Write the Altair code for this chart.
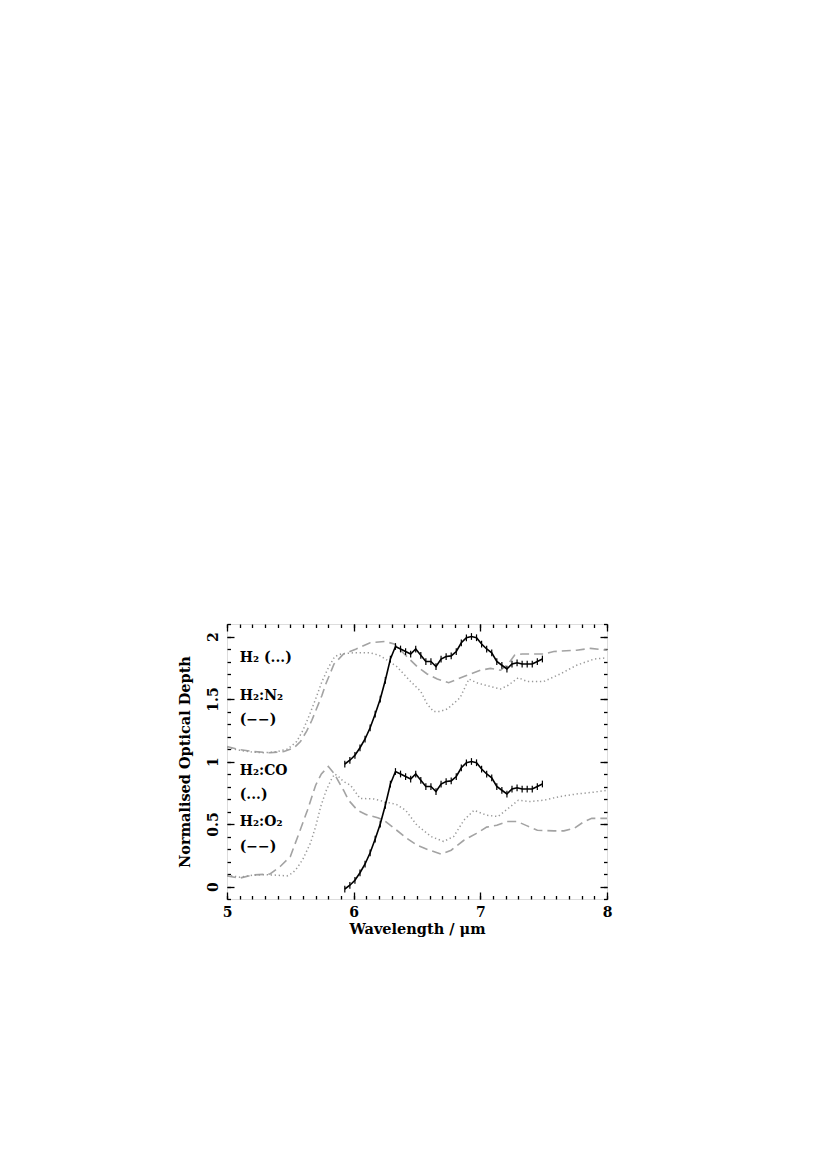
import altair as alt
import pandas as pd

# ---------------- data ----------------
# H2 (pure) ice, dotted, offset +1
h2_x = [5.00, 5.10, 5.20, 5.30, 5.40, 5.48, 5.55, 5.60, 5.65, 5.70, 5.75, 5.80, 5.85, 5.90, 6.00,
        6.13, 6.20, 6.25, 6.34, 6.45, 6.53, 6.58, 6.63, 6.68, 6.74, 6.84, 6.91, 6.97, 7.08, 7.16,
        7.22, 7.30, 7.37, 7.50, 7.63, 7.76, 7.90, 8.00]
h2_y = [1.11, 1.09, 1.075, 1.07, 1.08, 1.10, 1.16, 1.25, 1.37, 1.50, 1.64, 1.75, 1.84, 1.86, 1.87,
        1.87, 1.85, 1.82, 1.76, 1.64, 1.56, 1.46, 1.40, 1.40, 1.42, 1.51, 1.66, 1.63, 1.60, 1.58,
        1.61, 1.67, 1.64, 1.64, 1.70, 1.77, 1.82, 1.83]

# H2:N2 ice, dashed, offset +1
n2_x = [5.00, 5.10, 5.20, 5.34, 5.45, 5.53, 5.58, 5.63, 5.67, 5.71, 5.75, 5.78, 5.845, 5.92, 6.02,
        6.13, 6.25, 6.32, 6.40, 6.50, 6.58, 6.66, 6.75, 6.87, 7.00, 7.08, 7.16, 7.22, 7.27, 7.33,
        7.50, 7.58, 7.76, 7.87, 8.00]
n2_y = [1.12, 1.095, 1.08, 1.07, 1.08, 1.11, 1.16, 1.245, 1.33, 1.43, 1.53, 1.62, 1.78, 1.86, 1.90,
        1.95, 1.96, 1.94, 1.86, 1.76, 1.70, 1.66, 1.63, 1.68, 1.73, 1.745, 1.73, 1.78, 1.85, 1.86,
        1.86, 1.88, 1.89, 1.905, 1.89]

# H2:CO ice, dotted
co_x = [5.00, 5.10, 5.20, 5.30, 5.40, 5.475, 5.52, 5.555, 5.60, 5.66, 5.70, 5.74, 5.78, 5.82, 5.85,
        5.88, 5.92, 5.975, 6.05, 6.16, 6.24, 6.34, 6.41, 6.50, 6.61, 6.71, 6.79, 6.87, 6.95, 7.05,
        7.14, 7.22, 7.30, 7.39, 7.50, 7.63, 7.76, 7.90, 8.00]
co_y = [0.09, 0.075, 0.09, 0.095, 0.09, 0.085, 0.11, 0.15, 0.22, 0.35, 0.48, 0.64, 0.76, 0.85, 0.90,
        0.88, 0.84, 0.81, 0.705, 0.70, 0.68, 0.655, 0.61, 0.49, 0.40, 0.36, 0.40, 0.53, 0.61, 0.57,
        0.56, 0.625, 0.69, 0.68, 0.69, 0.72, 0.74, 0.755, 0.77]

# H2:O2 ice, dashed
o2_x = [5.00, 5.10, 5.21, 5.34, 5.42, 5.50, 5.57, 5.635, 5.70, 5.745, 5.80, 5.845, 5.92, 5.96, 6.03,
        6.10, 6.19, 6.24, 6.34, 6.42, 6.50, 6.60, 6.69, 6.77, 6.87, 6.97, 7.05, 7.13, 7.21, 7.29,
        7.37, 7.45, 7.58, 7.66, 7.74, 7.82, 7.88, 8.00]
o2_y = [0.085, 0.067, 0.093, 0.10, 0.16, 0.24, 0.43, 0.61, 0.81, 0.90, 0.96, 0.905, 0.77, 0.69, 0.61,
        0.575, 0.55, 0.53, 0.45, 0.385, 0.33, 0.29, 0.26, 0.29, 0.37, 0.425, 0.475, 0.49, 0.52, 0.52,
        0.485, 0.45, 0.445, 0.445, 0.465, 0.52, 0.545, 0.545]

# observed normalised optical depth (plotted twice: as is, and offset by +1)
obs_x = [5.93, 5.97, 6.01, 6.05, 6.09, 6.13, 6.17, 6.21, 6.25, 6.29,
         6.33, 6.37, 6.41, 6.45, 6.49, 6.53, 6.57, 6.61, 6.65, 6.69,
         6.73, 6.77, 6.81, 6.85, 6.89, 6.93, 6.97, 7.01, 7.05, 7.09,
         7.13, 7.17, 7.21, 7.25, 7.29, 7.33, 7.37, 7.41, 7.45, 7.49]
obs_y = [-0.02, 0.01, 0.05, 0.11, 0.18, 0.27, 0.38, 0.50, 0.65, 0.82,
         0.92, 0.90, 0.88, 0.86, 0.90, 0.85, 0.80, 0.80, 0.76, 0.82,
         0.84, 0.845, 0.88, 0.95, 0.99, 1.00, 0.99, 0.94, 0.90, 0.87,
         0.80, 0.77, 0.74, 0.78, 0.79, 0.78, 0.78, 0.78, 0.80, 0.82]
obs_err = 0.027
offset = 1.0

label_text = ["H₂ (...)", "H₂:N₂", "(−−)", "H₂:CO", "(...)", "H₂:O₂", "(−−)"]

x_major = [5, 6, 7, 8]
y_major = [0, 0.5, 1, 1.5, 2]
x_minor = [round(5 + 0.1 * i, 2) for i in range(31)]
y_minor = [round(-0.1 + 0.1 * i, 2) for i in range(23)]

# ---------------- frames ----------------
h2 = pd.DataFrame({"x": h2_x, "y": h2_y})
n2 = pd.DataFrame({"x": n2_x, "y": n2_y})
co = pd.DataFrame({"x": co_x, "y": co_y})
o2 = pd.DataFrame({"x": o2_x, "y": o2_y})
obs_lo = pd.DataFrame({"x": obs_x, "y": obs_y})
obs_hi = pd.DataFrame({"x": obs_x, "y": [v + offset for v in obs_y]})
bars = pd.concat([obs_lo, obs_hi], ignore_index=True)
bars["lo"] = bars["y"] - obs_err
bars["hi"] = bars["y"] + obs_err
labels = pd.DataFrame({"t": label_text,
                       "x": [5.10] * 7,
                       "y": [1.83, 1.525, 1.33, 0.925, 0.73, 0.52, 0.32]})

FONT = "DejaVu Serif"
XS = alt.Scale(domain=[5, 8], nice=False, zero=False)
YS = alt.Scale(domain=[-0.1, 2.1], nice=False, zero=False)

common = dict(grid=False, domain=False, tickColor="black", tickWidth=1.3, labelFlush=False,
              labelFont=FONT, labelFontWeight="bold", labelFontSize=14, labelColor="black",
              titleFont=FONT, titleFontWeight="bold", titleFontSize=14.5, titleColor="black")

ax_b = alt.Axis(orient="bottom", values=x_major, tickSize=7, offset=-7, format="d",
                labelPadding=6, title="Wavelength / μm", titlePadding=3, **common)
ax_b_min = alt.Axis(orient="bottom", values=x_minor, tickSize=3.5, offset=-3.5,
                    labels=False, title=None, **common)
ax_t = alt.Axis(orient="top", values=x_major, tickSize=7, offset=-7,
                labels=False, title=None, **common)
ax_t_min = alt.Axis(orient="top", values=x_minor, tickSize=3.5, offset=-3.5,
                    labels=False, title=None, **common)
ax_l = alt.Axis(orient="left", values=y_major, tickSize=7, offset=-7, format="~g",
                labelAngle=270, labelAlign="center", labelBaseline="bottom", labelPadding=7,
                title="Normalised Optical Depth", titlePadding=14, **common)
ax_l_min = alt.Axis(orient="left", values=y_minor, tickSize=3.5, offset=-3.5,
                    labels=False, title=None, **common)
ax_r = alt.Axis(orient="right", values=y_major, tickSize=7, offset=-7,
                labels=False, title=None, **common)
ax_r_min = alt.Axis(orient="right", values=y_minor, tickSize=3.5, offset=-3.5,
                    labels=False, title=None, **common)

GREY_DASH = "#a3a3a3"
GREY_DOT = "#999999"


def line(df, color, dash, width, xa, ya):
    return alt.Chart(df).mark_line(color=color, strokeDash=dash, strokeWidth=width,
                                   clip=True).encode(
        x=alt.X("x:Q", scale=XS, axis=xa),
        y=alt.Y("y:Q", scale=YS, axis=ya),
        order="x:Q")


l_n2 = line(n2, GREY_DASH, [9, 5], 1.6, ax_t, ax_r)
l_h2 = line(h2, GREY_DOT, [1.3, 2.7], 1.5, ax_t_min, ax_r_min)
l_o2 = line(o2, GREY_DASH, [9, 5], 1.6, None, None)
l_co = line(co, GREY_DOT, [1.3, 2.7], 1.5, None, None)
l_obs_hi = alt.Chart(obs_hi).mark_line(color="black", strokeWidth=1.6).encode(
    x=alt.X("x:Q", scale=XS, axis=ax_b), y=alt.Y("y:Q", scale=YS, axis=ax_l))
l_obs_lo = alt.Chart(obs_lo).mark_line(color="black", strokeWidth=1.6).encode(
    x=alt.X("x:Q", scale=XS, axis=ax_b_min), y=alt.Y("y:Q", scale=YS, axis=ax_l_min))
err = alt.Chart(bars).mark_rule(color="black", strokeWidth=1.2).encode(
    x=alt.X("x:Q", scale=XS, axis=None),
    y=alt.Y("lo:Q", scale=YS, axis=None), y2="hi:Q")
txt = alt.Chart(labels).mark_text(font=FONT, fontWeight="bold", fontSize=14, align="left",
                                  baseline="middle", color="black").encode(
    x=alt.X("x:Q", scale=XS, axis=None), y=alt.Y("y:Q", scale=YS, axis=None), text="t:N")

chart = alt.layer(l_n2, l_h2, l_o2, l_co, l_obs_hi, l_obs_lo, err, txt).resolve_axis(
    x="independent", y="independent"
).properties(
    width=380, height=275,
    autosize=alt.AutoSizeParams(type="none"),
    padding={"left": 219, "top": 616, "right": 200, "bottom": 250},
).configure_view(stroke="black", strokeWidth=1.5).configure(background="white")

chart.save("out.html", embed_options={"renderer": "svg", "actions": False})
